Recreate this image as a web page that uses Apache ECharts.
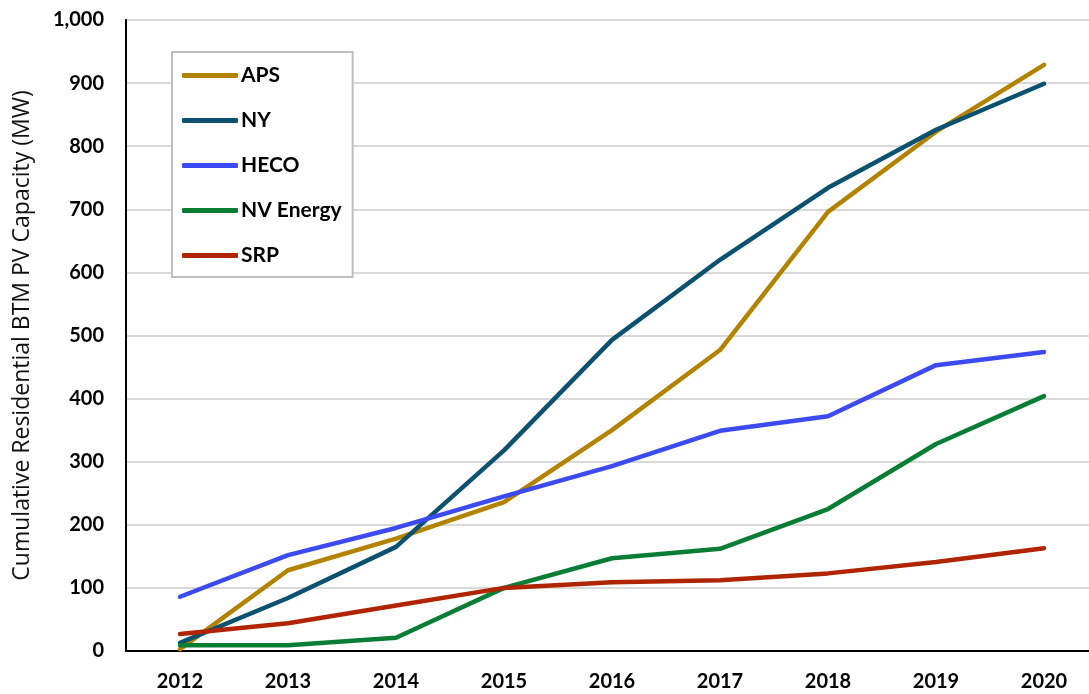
<!DOCTYPE html>
<html>
<head>
<meta charset="utf-8">
<script src="https://cdn.jsdelivr.net/npm/echarts@6/dist/echarts.min.js"></script>
<style>
  html, body { margin: 0; padding: 0; background: #fff; }
  #chart { width: 1089px; height: 694px; }
</style>
</head>
<body>
<div id="chart"></div>
<script>
// years on the x axis
const years = ['2012', '2013', '2014', '2015', '2016', '2017', '2018', '2019', '2020']

// cumulative residential BTM PV capacity (MW)
const aps = [3, 128, 178, 236, 350, 477, 696, 823, 929]
const ny = [13, 84, 165, 318, 493, 620, 734, 826, 899]
const heco = [86, 152, 195, 245, 293, 349, 372, 453, 474]
const nvEnergy = [9, 9, 21, 100, 147, 162, 225, 328, 404]
const srp = [27, 44, 72, 100, 109, 112, 123, 141, 163]

const font = 'Lato, "Open Sans", sans-serif'

const chart = echarts.init(document.getElementById('chart'))

function lineSeries(name, data, color) {
  return {
    name: name,
    type: 'line',
    data: data,
    symbol: 'none',
    smooth: false,
    lineStyle: { width: 4.5, color: color, cap: 'round', join: 'round' },
    itemStyle: { color: color }
  }
}

const option = {
  animation: false,
  backgroundColor: '#ffffff',
  textStyle: { fontFamily: font },
  grid: {
    left: 126,
    top: 20,
    width: 972, // plot runs a little past the right edge of the window
    height: 631,
    outerBoundsMode: 'none',
    containLabel: false,
    show: true,
    borderColor: '#000',
    borderWidth: 2
  },
  legend: {
    orient: 'vertical',
    left: 172,
    top: 52,
    padding: [13, 11, 11, 10],
    itemGap: 24,
    itemWidth: 56,
    itemHeight: 5,
    icon: 'roundRect',
    backgroundColor: '#fff',
    borderColor: '#bfbfbf',
    borderWidth: 2,
    borderRadius: 0,
    textStyle: { fontFamily: font, fontWeight: 'bold', fontSize: 21, color: '#000', padding: [0, 0, 0, -2] },
    data: ['APS', 'NY', 'HECO', 'NV Energy', 'SRP']
  },
  xAxis: {
    type: 'category',
    data: years,
    boundaryGap: true,
    axisLine: { lineStyle: { color: '#000', width: 2 } },
    axisTick: { show: false },
    axisLabel: { fontFamily: font, fontWeight: 'bold', fontSize: 20, color: '#000', margin: 21 }
  },
  yAxis: {
    type: 'value',
    min: 0,
    max: 1000,
    interval: 100,
    name: 'Cumulative Residential BTM PV Capacity (MW)',
    nameLocation: 'middle',
    nameGap: 92,
    nameTextStyle: { fontFamily: '"Open Sans", sans-serif', fontSize: 23, color: '#111' },
    axisLine: { show: true, lineStyle: { color: '#000', width: 2 } },
    axisTick: { show: false },
    splitLine: { lineStyle: { color: '#d9d9d9', width: 2 } },
    axisLabel: {
      fontFamily: font,
      fontWeight: 'bold',
      fontSize: 20,
      color: '#000',
      margin: 22,
      formatter: function (v) { return v.toLocaleString('en-US') }
    }
  },
  series: [
    lineSeries('APS', aps, '#b38300'),
    lineSeries('NY', ny, '#0c5270'),
    lineSeries('HECO', heco, '#3c4af2'),
    lineSeries('NV Energy', nvEnergy, '#0a7d35'),
    lineSeries('SRP', srp, '#b02400')
  ]
}

chart.setOption(option)
</script>
</body>
</html>
